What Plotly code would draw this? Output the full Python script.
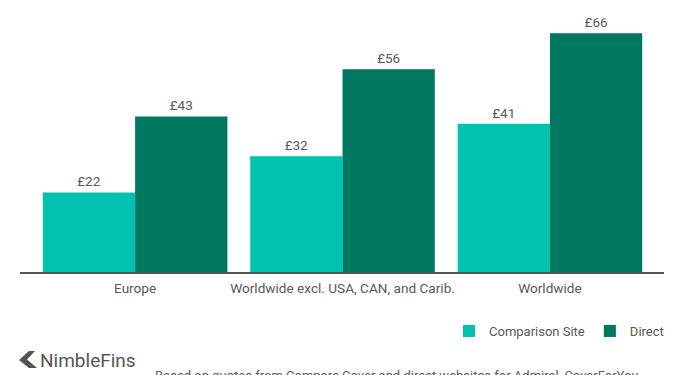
import plotly.graph_objects as go

categories = ["Europe", "Worldwide excl. USA, CAN, and Carib.", "Worldwide"]
comparison_site = [22, 32, 41]
direct = [43, 56, 66]
series_names = ["Comparison Site", "Direct"]
colors = ["#00C2AE", "#00775F"]

OFF = 8  # page body margin
W, H = 700, 375
ML, MR, MT, MB = 12, 44, 2, 111
PW, PH = W - ML - MR, H - MT - MB

def px_x(px):
    return (px - OFF - ML) / PW

def px_y(py):
    return (H - MB - (py - OFF)) / PH

fig = go.Figure()
for name, vals, col in zip(series_names, [comparison_site, direct], colors):
    fig.add_trace(go.Bar(
        x=categories, y=vals, name=name, marker_color=col,
        marker_line_width=0,
        texttemplate="£%{y}", textposition="outside",
        textfont=dict(color="#595959", size=13.5, family="Roboto"),
        cliponaxis=False,
    ))

# logo chevron
fig.add_shape(type="path",
              path="M {} {} L {} {} L {} {} L {} {} L {} {} L {} {} Z".format(
                  px_x(19), px_y(360), px_x(29), px_y(351), px_x(35), px_y(351),
                  px_x(27), px_y(359.5), px_x(37), px_y(368), px_x(29), px_y(368)),
              xref="paper", yref="paper", fillcolor="#555555", line_width=0)

fig.add_annotation(text="NimbleFins", xref="paper", yref="paper",
                   x=px_x(38), y=px_y(360), xanchor="left", yanchor="middle",
                   showarrow=False, font=dict(size=19, color="#555555", family="Roboto"))
fig.add_annotation(text="Based on quotes from Compare Cover and direct websites for Admiral, CoverForYou",
                   xref="paper", yref="paper", x=px_x(153), y=px_y(366),
                   xanchor="left", yanchor="top", showarrow=False,
                   font=dict(size=13, color="#595959", family="Roboto"))

fig.update_layout(
    width=W, height=H,
    margin=dict(l=ML, r=MR, t=MT, b=MB, autoexpand=False),
    paper_bgcolor="white", plot_bgcolor="white",
    barmode="group", bargap=0.11, bargroupgap=0,
    font=dict(family="Roboto", color="#595959", size=13),
    showlegend=True,
    legend=dict(orientation="h", x=px_x(669), xanchor="right", y=px_y(331), yanchor="middle",
                font=dict(size=13, color="#595959"), itemwidth=30, traceorder="normal"),
    xaxis=dict(range=[-0.555, 2.55], showline=True, linecolor="#555555", linewidth=2,
               showgrid=False, ticks="", ticklabelstandoff=3,
               tickfont=dict(size=13.6, color="#595959")),
    yaxis=dict(range=[0, 72.4], visible=False, showgrid=False),
)

fig.write_html("out.html")
